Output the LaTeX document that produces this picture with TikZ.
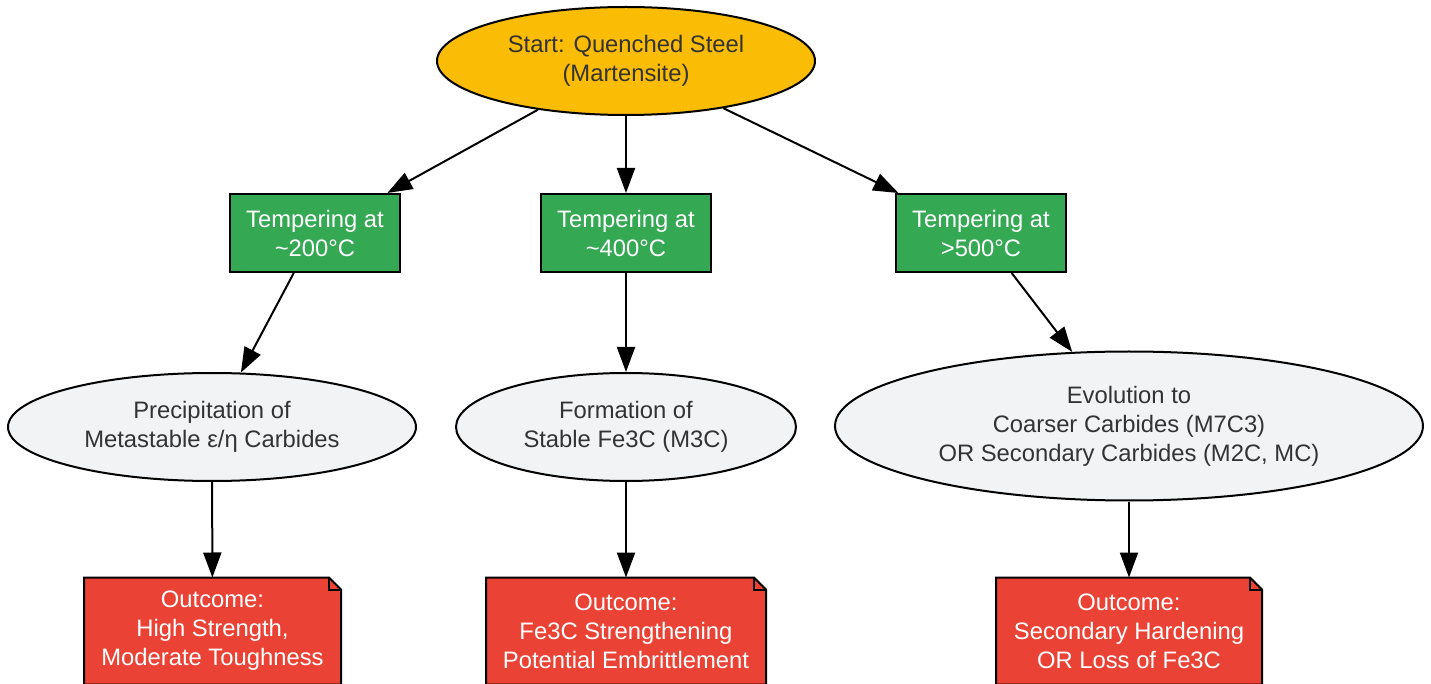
\documentclass[tikz,border=0pt]{standalone}
\usepackage{xcolor}
\usepackage{fontspec}
\setmainfont{Liberation Sans}
\usepackage{tikz}
\usetikzlibrary{shapes.geometric,arrows.meta,backgrounds}

\definecolor{startyellow}{HTML}{FBBC05}
\definecolor{tempgreen}{HTML}{34A853}
\definecolor{carbgray}{HTML}{F1F3F4}
\definecolor{outred}{HTML}{EA4335}
\definecolor{txtgray}{HTML}{333333}

\tikzset{
  base/.style={draw=black, line width=1pt, align=center, inner sep=0pt,
    font=\fontsize{11.9}{14.5}\selectfont},
  startnode/.style={base, ellipse, fill=startyellow, text=txtgray,
    minimum width=189pt, minimum height=54pt},
  tempbox/.style={base, rectangle, fill=tempgreen, text=white,
    minimum width=85pt, minimum height=39pt},
  carbnode/.style={base, ellipse, fill=carbgray, text=txtgray},
  outcome/.style={base, rectangle, draw=none, text=white,
    minimum height=52.5pt},
  link/.style={line width=1pt, -{Triangle[length=12.5pt,width=9pt]}},
}

% folded note outline behind node #1
\newcommand{\notefold}[1]{%
  \begin{scope}[on background layer]
  \filldraw [fill=outred, line width=1pt, line join=miter]
    (#1.south west) -- (#1.north west) -- ([xshift=-6pt]#1.north east)
    -- ([yshift=-6pt]#1.north east) -- (#1.south east) -- cycle;
  \draw [line width=1pt]
    ([xshift=-6pt]#1.north east) -- ([xshift=-6pt,yshift=-6pt]#1.north east)
    -- ([yshift=-6pt]#1.north east);
  \end{scope}
}

\begin{document}
\begin{tikzpicture}[x=0.5pt,y=-0.5pt]

	\useasboundingbox (0,0) rectangle (1431,684);

	\node [startnode] (start) at (626,61) {Start: Quenched Steel\\(Martensite)};

	\node [tempbox] (t200) at (315,233) {Tempering at\\\textasciitilde200°C};
	\node [tempbox] (t400) at (626,233) {Tempering at\\\textasciitilde400°C};
	\node [tempbox] (t500) at (981,233) {Tempering at\\>500°C};

	\node [carbnode, minimum width=204pt, minimum height=54pt] (c200) at (212,427)
		{Precipitation of\\Metastable ε/η Carbides};
	\node [carbnode, minimum width=170pt, minimum height=54pt] (c400) at (626,427)
		{Formation of\\Stable Fe3C (M3C)};
	\node [carbnode, minimum width=294pt, minimum height=74.5pt] (c500) at (1129,426)
		{Evolution to\\Coarser Carbides (M7C3)\\OR Secondary Carbides (M2C, MC)};

	\node [outcome, minimum width=127.5pt] (o200) at (212.5,631)
		{Outcome:\\High Strength,\\Moderate Toughness};
	\node [outcome, minimum width=139pt] (o400) at (626,631)
		{Outcome:\\Fe3C Strengthening\\Potential Embrittlement};
	\node [outcome, minimum width=132pt] (o500) at (1129,631)
		{Outcome:\\Secondary Hardening\\OR Loss of Fe3C};

	\notefold{o200}
	\notefold{o400}
	\notefold{o500}

	\foreach \a/\b in {start/t200, start/t400, start/t500,
		t200/c200, t400/c400, t500/c500,
		c200/o200, c400/o400, c500/o500} {
		\draw [link] (\a) -- (\b);
	}
\end{tikzpicture}
\end{document}
